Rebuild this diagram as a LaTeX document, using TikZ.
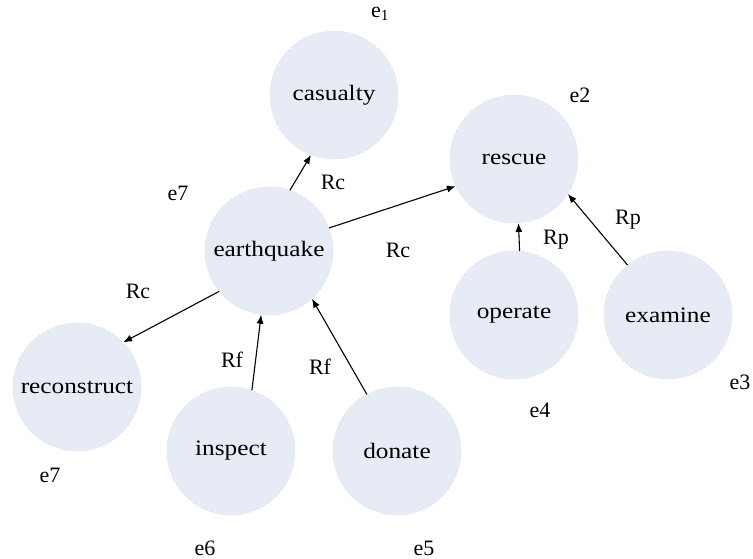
\documentclass[tikz,border=0pt]{standalone}
\usepackage{fontspec}
\setmainfont{Liberation Serif}
\usetikzlibrary{arrows.meta}
\definecolor{bubble}{RGB}{230,235,245}
\definecolor{rimcol}{RGB}{215,220,230}
\tikzset{
  ent/.style={circle, fill=bubble, draw=rimcol, densely dashed, line width=0.4pt, minimum size=128pt, inner sep=0pt,
    font=\fontsize{22}{22}\selectfont},
  lab/.style={inner sep=0pt, font=\fontsize{22}{22}\selectfont},
  rel/.style={-{Latex[length=9pt,width=7pt]}, line width=1.1pt, black},
}
\newcommand{\wideword}[1]{\scalebox{1.15}[1]{#1}}
\begin{document}
\begin{tikzpicture}[x=1pt,y=-1pt]
\useasboundingbox (0,0) rectangle (753,559);
\node[ent] (casualty) at (334,95) {\wideword{casualty}};
\node[ent] (rescue) at (514,159) {\wideword{rescue}};
\node[ent] (operate) at (514,315) {\wideword{operate}};
\node[ent] (examine) at (668,315) {\wideword{examine}};
\node[ent] (earthquake) at (269,251) {\wideword{earthquake}};
\node[ent] (reconstruct) at (77,387) {\wideword{reconstruct}};
\node[ent] (inspect) at (231,451) {\wideword{inspect}};
\node[ent] (donate) at (397,451) {\wideword{donate}};

\node[lab] (e1) at (380,14) {e\textsubscript{1}};
\node[lab] (e2) at (580,95) {e2};
\node[lab] (e7a) at (178,193) {e7};
\node[lab] (e7b) at (50,475) {e7};
\node[lab] (e6) at (205,548) {e6};
\node[lab] (e5) at (424,548) {e5};
\node[lab] (e4) at (540,410) {e4};
\node[lab] (e3) at (740,382) {e3};

\node[lab] (rc1) at (333,182) {Rc};
\node[lab] (rc2) at (398,250) {Rc};
\node[lab] (rc3) at (138,291) {Rc};
\node[lab] (rf1) at (232,360) {Rf};
\node[lab] (rf2) at (320,367) {Rf};
\node[lab] (rp1) at (556,240) {Rp};
\node[lab] (rp2) at (628,220) {Rp};

\draw[rel] (earthquake.71) -- (casualty.249);
\draw[rel] (earthquake.21) -- (rescue.205);
\draw[rel] (earthquake.219) -- (reconstruct.44);
\draw[rel] (inspect.71) -- (earthquake.263);
\draw[rel] (donate.118) -- (earthquake.312);
\draw[rel] (operate.85) -- (rescue.274);
\draw[rel] (examine.129) -- (rescue.327);
\end{tikzpicture}
\end{document}
